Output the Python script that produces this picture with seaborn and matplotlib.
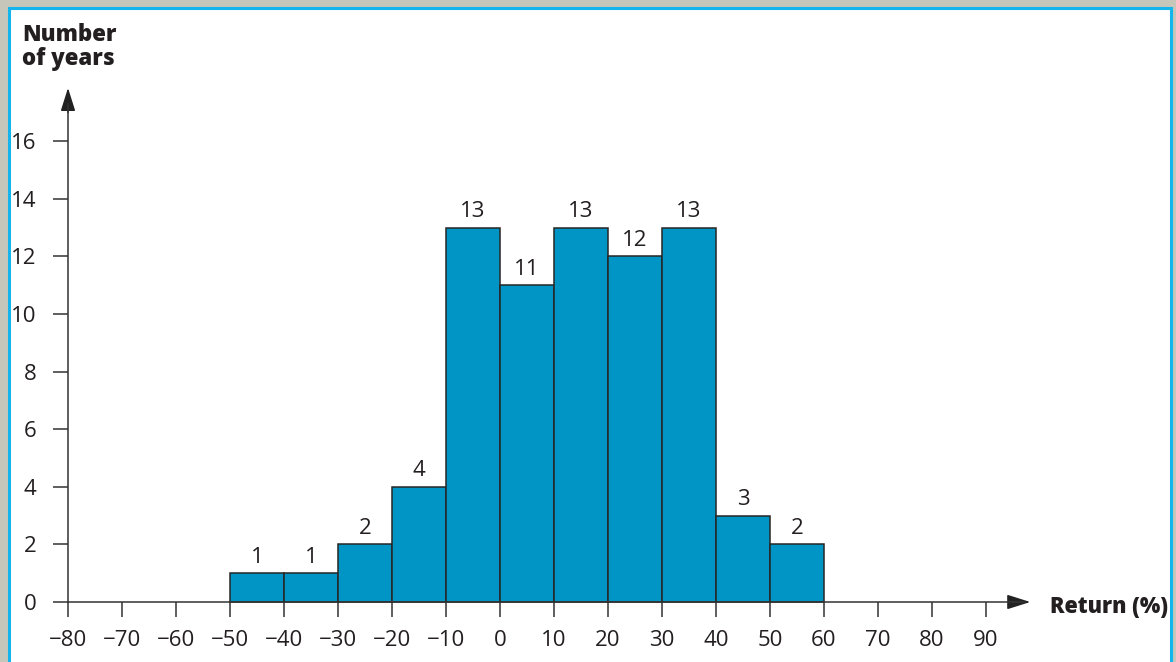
import matplotlib
matplotlib.use("Agg")
import matplotlib.pyplot as plt
from matplotlib.patches import Rectangle
import numpy as np
import seaborn as sns

# Histogram of annual returns
bin_edges = [-50, -40, -30, -20, -10, 0, 10, 20, 30, 40, 50, 60]
counts = [1, 1, 2, 4, 13, 11, 13, 12, 13, 3, 2]
x_ticks = [-80, -70, -60, -50, -40, -30, -20, -10, 0, 10, 20, 30, 40, 50, 60, 70, 80, 90]
y_ticks = [0, 2, 4, 6, 8, 10, 12, 14, 16]

sns.set_theme(style="white")
plt.rcParams['font.family'] = ['Open Sans', 'DejaVu Sans']

W, H = 1176, 662
fig = plt.figure(figsize=(W / 100, H / 100), dpi=100, facecolor='#c6c6ba')
fig.patches.append(Rectangle((9 / W, -0.01), 1162 / W, 1 - 8 / H + 0.01,
                             transform=fig.transFigure, facecolor='white',
                             edgecolor='#14b4ec', linewidth=2.2, zorder=-1))

ax = fig.add_axes([0, 0, 1, 1])
ax.patch.set_alpha(0)

# pixel mapping: x=0 at px 500, 5.4 px per unit; y=0 at px 602, 28.8 px per unit
ax.set_xlim(-500 / 5.4, (W - 500) / 5.4)
ax.set_ylim((602 - H) / 28.8, 602 / 28.8)

centers = [(a + b) / 2 for a, b in zip(bin_edges[:-1], bin_edges[1:])]
sns.histplot(x=centers, weights=counts, bins=bin_edges, color='#0095c4',
             edgecolor='#262626', linewidth=1.1, alpha=1, ax=ax, zorder=2)
ax.bar_label(ax.containers[0], labels=[str(c) for c in counts], padding=4,
             fontsize=16, color='#231f20')

ax.set_xlabel('')
ax.set_ylabel('')

for s in ['top', 'right']:
    ax.spines[s].set_visible(False)
ax.spines['left'].set_position(('data', -80))
ax.spines['bottom'].set_position(('data', 0))
ax.spines['left'].set_bounds(0, 17.3)
ax.spines['bottom'].set_bounds(-80, 97)
for s in ['left', 'bottom']:
    ax.spines[s].set_color('#333333')
    ax.spines[s].set_linewidth(1.1)
    ax.spines[s].set_zorder(3)

ax.set_xticks(x_ticks)
ax.set_yticks(y_ticks)
ax.set_xticklabels([f'\u2212{-t}' if t < 0 else str(t) for t in x_ticks])
ax.tick_params(axis='x', direction='out', length=11, width=1.1, color='#333333',
               pad=9, labelsize=16, labelcolor='#231f20', bottom=True)
ax.tick_params(axis='y', direction='out', length=10.5, width=1.1, color='#333333',
               pad=12, labelsize=16, labelcolor='#231f20', left=True)

# axis arrows
arrow = dict(arrowstyle='-|>,head_length=0.95,head_width=0.3',
             color='#222222', lw=1.1, shrinkA=0, shrinkB=0, mutation_scale=15)
ax.annotate('', xy=(-80, 17.85), xytext=(-80, 17.0), arrowprops=arrow)
ax.annotate('', xy=(98.2, 0), xytext=(95, 0), arrowprops=arrow)

ax.text(101.9, -0.17, 'Return (%)', ha='left', va='center', fontsize=15.5,
        fontweight='heavy', color='#231f20')
fig.text(22 / W, 1 - 23 / H, 'Number\nof years', ha='left', va='top',
         fontsize=16, fontweight='heavy', color='#231f20', linespacing=1.0)

fig.savefig('out.png', dpi=100, facecolor=fig.get_facecolor())
